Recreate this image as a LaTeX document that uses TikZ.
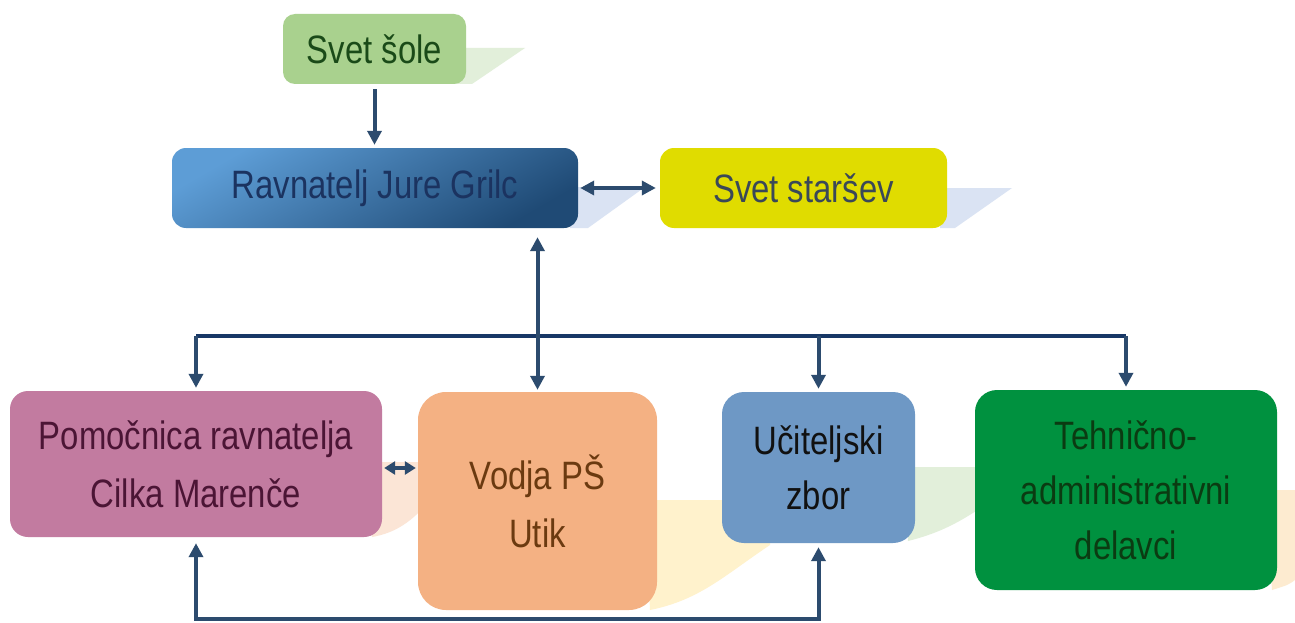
\documentclass[tikz,border=0pt]{standalone}
\usepackage{fontspec}
\setmainfont{Liberation Sans}[FakeStretch=0.83]
\usetikzlibrary{arrows.meta}
\definecolor{arrowc}{HTML}{2C4B6E}
\definecolor{busc}{HTML}{173766}
\definecolor{soleF}{HTML}{A9D18E}
\definecolor{soleT}{HTML}{1A4A18}
\definecolor{ravA}{HTML}{5D9DD6}
\definecolor{ravB}{HTML}{1F4A75}
\definecolor{ravT}{HTML}{1B3360}
\definecolor{starF}{HTML}{E0DC00}
\definecolor{starT}{HTML}{3A4858}
\definecolor{pomF}{HTML}{C27BA0}
\definecolor{pomT}{HTML}{4B1535}
\definecolor{vodF}{HTML}{F4B183}
\definecolor{vodT}{HTML}{6B3A10}
\definecolor{uciF}{HTML}{6E98C5}
\definecolor{uciT}{HTML}{111111}
\definecolor{tehF}{HTML}{00913F}
\definecolor{tehT}{HTML}{0B3B12}
\definecolor{shGreen}{HTML}{E2EFDA}
\definecolor{shBlue}{HTML}{DAE3F3}
\definecolor{shPeach}{HTML}{FBE5D6}
\definecolor{shYellow}{HTML}{FFF2CC}
\definecolor{shOrange}{HTML}{FDEBD0}
\begin{document}
\begin{tikzpicture}[x=1pt,y=-1pt,
  boxst/.style={inner sep=0pt, align=center, font=\fontsize{39.6}{58}\selectfont},
  boxsm/.style={inner sep=0pt, align=center, font=\fontsize{39.6}{55}\selectfont},
  arr/.style={draw=arrowc, line width=4pt, -{Triangle[length=14pt,width=14pt]}},
  darr/.style={draw=arrowc, line width=4pt, {Triangle[length=14pt,width=14pt]}-{Triangle[length=14pt,width=14pt]}},
  sdarr/.style={draw=arrowc, line width=4pt, {Triangle[length=11pt,width=13pt]}-{Triangle[length=11pt,width=13pt]}},
  busline/.style={draw=busc, line width=4pt}
]
\useasboundingbox (0,0) rectangle (1295,623);
\fill[white] (0,0) rectangle (1295,623);

% shadows
\fill[shGreen] (455,48) -- (525,48) -- (472,84) -- (455,84) -- cycle;
\fill[shBlue] (570,187) -- (645,187) -- (588,228) -- (570,228) -- cycle;
\fill[shBlue] (940,188) -- (1012,188) -- (955,228) -- (940,228) -- cycle;
\fill[shPeach] (370,462) -- (430,462) -- (430,500) .. controls (412,522) and (395,533) .. (372,537) -- cycle;
\fill[shYellow] (645,500) -- (770,500) -- (770,545) .. controls (725,575) and (700,600) .. (650,610) -- cycle;
\fill[shGreen] (905,467) -- (985,467) -- (985,505) .. controls (960,522) and (940,533) .. (908,541) -- cycle;
\fill[shOrange] (1265,490) -- (1295,490) -- (1295,580) .. controls (1288,585) .. (1272,590) -- cycle;

% boxes
\node[boxst, fill=soleF, text=soleT, rounded corners=12pt, minimum width=183pt, minimum height=70pt] (sole) at (374.5,49) {Svet šole};
\node[boxst, shade, top color=ravA, bottom color=ravB, shading angle=30, text=ravT, rounded corners=14pt, minimum width=406pt, minimum height=80pt] (rav) at (375,188) {Ravnatelj Jure Grilc};
\node[boxst, fill=starF, text=starT, rounded corners=14pt, minimum width=287pt, minimum height=80pt] (star) at (803.5,188) {Svet staršev};
\node[boxst, fill=pomF, text=pomT, rounded corners=18pt, minimum width=372pt, minimum height=146pt] (pom) at (196,464) {Pomočnica ravnatelja\\Cilka Marenče};
\node[boxst, fill=vodF, text=vodT, rounded corners=28pt, minimum width=239pt, minimum height=218pt] (vod) at (537.5,501) {Vodja PŠ\\Utik};
\node[boxsm, fill=uciF, text=uciT, rounded corners=22pt, minimum width=193pt, minimum height=151pt] (uci) at (818.5,467.5) {Učiteljski\\zbor};
\node[boxsm, fill=tehF, text=tehT, rounded corners=22pt, minimum width=302pt, minimum height=200pt] (teh) at (1126,490) {Tehnično-\\administrativni\\delavci};

% connectors
\coordinate (bus) at (538,336);
\coordinate (low) at (505,619);
\draw[arr, shorten <=5pt, shorten >=3pt] (sole.south) -- (rav.north -| sole.south);
\draw[darr, shorten <=2pt, shorten >=4pt] (rav.east) -- (star.west);
\draw[busline] (pom.north |- bus) -- (teh.north |- bus);
\draw[arr, shorten >=3pt] (pom.north |- bus) -- (pom.north);
\draw[arr, shorten >=3pt] (uci.north |- bus) -- (uci.north);
\draw[arr, shorten >=3pt] (teh.north |- bus) -- (teh.north);
\draw[darr, shorten <=9pt, shorten >=2pt] (rav.south -| vod.north) -- (vod.north);
\draw[sdarr, shorten <=2pt, shorten >=2pt] (pom.east |- 0,468) -- (vod.west |- 0,468);
\draw[darr, shorten <=6pt, shorten >=4pt] (pom.south) |- (low) -| (uci.south);
\end{tikzpicture}
\end{document}
